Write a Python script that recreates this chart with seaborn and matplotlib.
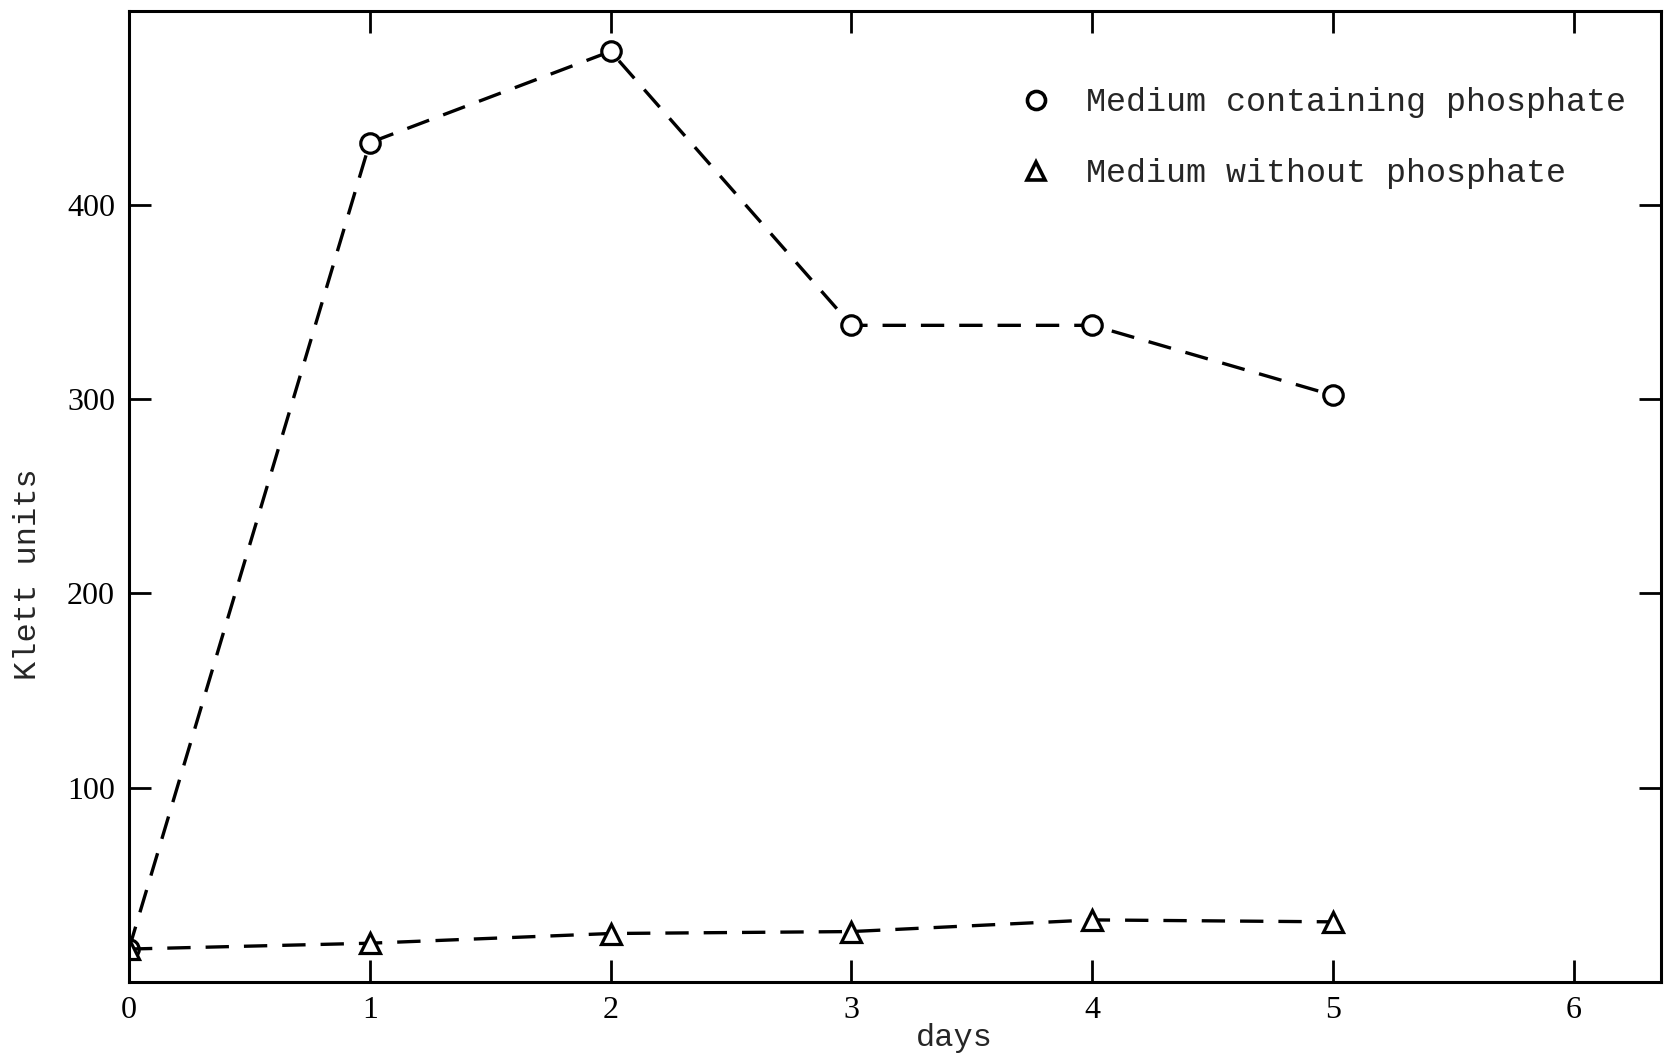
import matplotlib
matplotlib.use("Agg")
import matplotlib.pyplot as plt
import seaborn as sns
import pandas as pd
from matplotlib.lines import Line2D

# Growth readings (Klett units) over six days
days = [0, 1, 2, 3, 4, 5]
with_phosphate = [17, 432, 479, 338, 338, 302]
without_phosphate = [17, 20, 25, 26, 32, 31]
series_names = ["Medium containing phosphate", "Medium without phosphate"]
x_ticks = [0, 1, 2, 3, 4, 5, 6]
y_ticks = [100, 200, 300, 400]

df = pd.DataFrame({
    "day": days * 2,
    "klett": with_phosphate + without_phosphate,
    "medium": [series_names[0]] * len(days) + [series_names[1]] * len(days),
})

sns.set_theme(style="white")
plt.rcParams["font.family"] = ["Liberation Serif", "DejaVu Serif"]

fig = plt.figure(figsize=(16.64, 10.56), dpi=100)
ax = fig.add_axes([0.0775, 0.070, 0.9205, 0.920])

markers = {series_names[0]: "o", series_names[1]: "^"}
msizes = {series_names[0]: 14, series_names[1]: 15}
for name in series_names:
    sub = df[df["medium"] == name]
    sns.lineplot(data=sub, x="day", y="klett", ax=ax, color="black",
                 marker=markers[name], markersize=msizes[name],
                 markerfacecolor="white", markeredgecolor="black",
                 markeredgewidth=2.3, linewidth=2.4,
                 linestyle=(0, (7, 4.5)), legend=False)

ax.set_xlim(0, 6.36)
ax.set_ylim(0, 500)
ax.set_xticks(x_ticks)
ax.set_yticks(y_ticks)
ax.set_xticklabels([str(t) for t in x_ticks])
ax.set_yticklabels([str(t) for t in y_ticks])

for side in ["left", "right", "top", "bottom"]:
    ax.spines[side].set_visible(True)
    ax.spines[side].set_color("black")
    ax.spines[side].set_linewidth(2.2)

ax.tick_params(axis="both", which="major", direction="in", length=16, width=2,
               color="black", labelsize=23, labelcolor="black",
               top=True, right=True, bottom=True, left=True, pad=10)

mono = ["Liberation Mono", "DejaVu Sans Mono"]
ax.set_xlabel("days", fontsize=23, family=mono)
ax.set_ylabel("Klett units", fontsize=23, family=mono)
ax.xaxis.set_label_coords(0.539, -0.042)
ax.yaxis.set_label_coords(-0.056, 0.42)

handles = [Line2D([], [], linestyle="none", marker=markers[n], markersize=13,
                  markerfacecolor="white", markeredgecolor="black",
                  markeredgewidth=2.6) for n in series_names]
ax.legend(handles, series_names, loc="upper left", bbox_to_anchor=(0.562, 0.952),
          frameon=False, handletextpad=1.0, labelspacing=1.2, handlelength=1.0,
          prop={"family": mono, "size": 24})

fig.savefig("out.png", dpi=100, facecolor="white")
